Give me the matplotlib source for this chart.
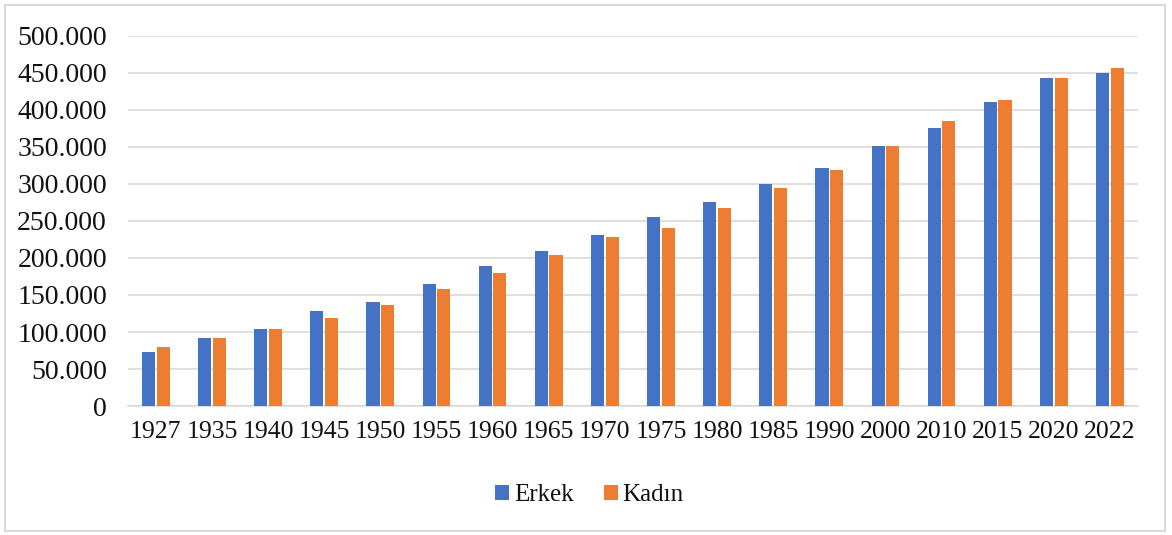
import numpy as np
import matplotlib.pyplot as plt
from matplotlib.ticker import FuncFormatter
from matplotlib.patches import Rectangle

# Data
years = ["1927", "1935", "1940", "1945", "1950", "1955", "1960", "1965", "1970",
         "1975", "1980", "1985", "1990", "2000", "2010", "2015", "2020", "2022"]
erkek = [73000, 92000, 104000, 128000, 140000, 165000, 189000, 210000, 231000,
         255000, 276000, 300000, 322000, 351000, 376000, 410000, 443000, 450000]
kadin = [80000, 92000, 104000, 119000, 137000, 158000, 180000, 204000, 228000,
         240000, 268000, 295000, 319000, 351000, 385000, 413000, 443000, 456000]

BLUE = "#4472C4"
ORANGE = "#ED7D31"
GRID = "#D9D9D9"

plt.rcParams["font.family"] = ["Liberation Serif", "DejaVu Serif"]

fig = plt.figure(figsize=(11.72, 5.35), dpi=100)
ax = fig.add_axes([0.109, 0.241, 0.862, 0.692])

x = np.arange(len(years))
w = 0.235
ax.bar(x - 0.13, erkek, width=w, color=BLUE, label="Erkek", zorder=3)
ax.bar(x + 0.13, kadin, width=w, color=ORANGE, label="Kadın", zorder=3)

ax.set_xlim(-0.5, len(years) - 0.5)
ax.set_ylim(0, 500000)
ax.set_yticks(np.arange(0, 500001, 50000))
ax.yaxis.set_major_formatter(FuncFormatter(lambda v, p: f"{v:,.0f}".replace(",", ".")))
ax.set_xticks(x)
ax.set_xticklabels(years)

ax.grid(axis="y", color=GRID, linewidth=1.2, zorder=0)
for s in ["top", "right", "left"]:
    ax.spines[s].set_visible(False)
ax.spines["bottom"].set_color(GRID)
ax.spines["bottom"].set_linewidth(1.2)
ax.tick_params(axis="both", length=0, colors="#111111")
ax.tick_params(axis="y", pad=15, labelsize=20)
ax.tick_params(axis="x", pad=11, labelsize=18.5)

fig.legend(loc="center", bbox_to_anchor=(0.503, 0.075), ncol=2, frameon=False,
           fontsize=18, handlelength=0.55, handleheight=0.55, handletextpad=0.2,
           columnspacing=1.2, labelcolor="#111111")

# light outer border of the chart area
fig.patches.append(Rectangle((0.004, 0.008), 0.99, 0.982, transform=fig.transFigure,
                             fill=False, edgecolor="#D9D9D9", linewidth=1.5))

fig.savefig("out.png", dpi=100)
